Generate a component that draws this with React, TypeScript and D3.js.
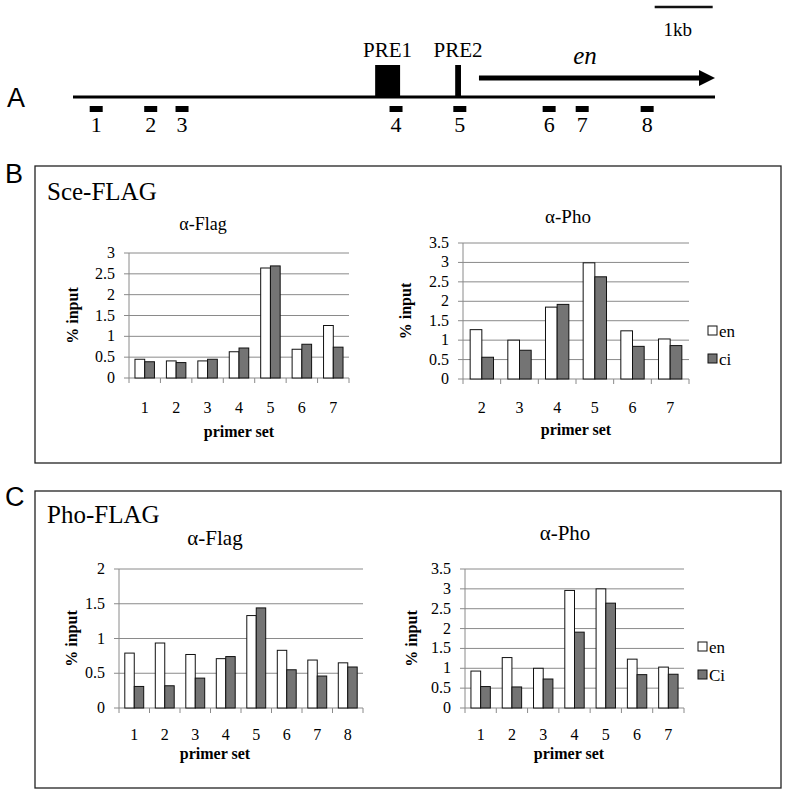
import React from "react";
import * as d3 from "d3";

// ---------- data ----------
const seriesNames = ["en", "ci"];
const seriesNamesC = ["en", "Ci"];

const bLeftPrimers = ["1", "2", "3", "4", "5", "6", "7"];
const bLeftEn = [0.45, 0.41, 0.41, 0.63, 2.64, 0.69, 1.26];
const bLeftCi = [0.39, 0.37, 0.45, 0.72, 2.69, 0.81, 0.74];

const bRightPrimers = ["2", "3", "4", "5", "6", "7"];
const bRightEn = [1.27, 1.0, 1.85, 2.99, 1.24, 1.03];
const bRightCi = [0.56, 0.74, 1.92, 2.63, 0.84, 0.86];

const cLeftPrimers = ["1", "2", "3", "4", "5", "6", "7", "8"];
const cLeftEn = [0.79, 0.935, 0.77, 0.71, 1.33, 0.83, 0.69, 0.65];
const cLeftCi = [0.31, 0.32, 0.43, 0.74, 1.44, 0.55, 0.46, 0.59];

const cRightPrimers = ["1", "2", "3", "4", "5", "6", "7"];
const cRightEn = [0.93, 1.27, 1.0, 2.96, 3.0, 1.23, 1.03];
const cRightCi = [0.54, 0.53, 0.73, 1.91, 2.64, 0.84, 0.85];

// gene map (kb)
const mapLength = 11.07;
const primerLabels = ["1", "2", "3", "4", "5", "6", "7", "8"];
const primerKb = [0.4, 1.34, 1.88, 5.57, 6.67, 8.21, 8.78, 9.9];
const pre1Kb = [5.21, 5.64];
const pre2Kb = [6.59, 6.69];
const enKb = [7.0, 11.07];
const scaleBarKb = [10.03, 11.03];

const SERIF = "'Liberation Serif', 'Times New Roman', serif";
const SANS = "'Liberation Sans', Arial, sans-serif";
const GRID = "#8a8a8a";
const CI_FILL = "#747474";

type ChartProps = {
  cats: string[];
  en: number[];
  ci: number[];
  x0: number;
  x1: number;
  y0: number;
  yTop: number;
  max: number;
  title: string;
  titleX: number;
  titleY: number;
  titleSize: number;
  catY: number;
  axTitleX: number;
  axTitleY: number;
  yTitleX: number;
};

function BarChart(p: ChartProps) {
  const x = d3.scaleBand<string>().domain(p.cats).range([p.x0, p.x1]).padding(0);
  const bw = x.bandwidth();
  const inner = d3
    .scaleBand<string>()
    .domain(["en", "ci"])
    .range([bw * 0.19, bw * 0.81])
    .padding(0);
  const y = d3.scaleLinear().domain([0, p.max]).range([p.y0, p.yTop]);
  const ticks = d3.range(0, p.max + 0.001, 0.5);
  const bounds = p.cats.map((c) => x(c) as number).concat([p.x1]);
  return (
    <g>
      <text x={p.titleX} y={p.titleY} fontSize={p.titleSize} fontFamily={SERIF} textAnchor="middle">
        α-{p.title}
      </text>
      {ticks.map((t) => (
        <g key={t}>
          <line x1={p.x0 - 5} x2={p.x1} y1={y(t)} y2={y(t)} stroke={GRID} strokeWidth={1} />
          <text x={p.x0 - 14} y={y(t) + 5} fontSize={16} fontFamily={SERIF} textAnchor="end">
            {String(t)}
          </text>
        </g>
      ))}
      <line x1={p.x0} x2={p.x0} y1={p.yTop} y2={p.y0} stroke={GRID} strokeWidth={1} />
      {bounds.map((b, i) => (
        <line key={i} x1={b} x2={b} y1={p.y0} y2={p.y0 + 5} stroke={GRID} strokeWidth={1} />
      ))}
      {p.cats.map((c, i) => (
        <g key={c}>
          <rect
            x={(x(c) as number) + (inner("en") as number)}
            y={y(p.en[i])}
            width={inner.bandwidth()}
            height={p.y0 - y(p.en[i])}
            fill="#ffffff"
            stroke="#111"
            strokeWidth={1}
          />
          <rect
            x={(x(c) as number) + (inner("ci") as number)}
            y={y(p.ci[i])}
            width={inner.bandwidth()}
            height={p.y0 - y(p.ci[i])}
            fill={CI_FILL}
            stroke="#111"
            strokeWidth={1}
          />
          <text
            x={(x(c) as number) + bw / 2}
            y={p.catY}
            fontSize={16}
            fontFamily={SERIF}
            textAnchor="middle"
          >
            {c}
          </text>
        </g>
      ))}
      <text
        x={p.axTitleX}
        y={p.axTitleY}
        fontSize={16}
        fontWeight="bold"
        fontFamily={SERIF}
        textAnchor="middle"
      >
        primer set
      </text>
      <text
        transform={`translate(${p.yTitleX},${(p.y0 + p.yTop) / 2}) rotate(-90)`}
        fontSize={16}
        fontWeight="bold"
        fontFamily={SERIF}
        textAnchor="middle"
        dy={5}
      >
        % input
      </text>
    </g>
  );
}

function Legend({ x, y, names }: { x: number; y: number; names: string[] }) {
  return (
    <g>
      {names.map((n, i) => (
        <g key={n}>
          <rect
            x={x}
            y={y + i * 28}
            width={9}
            height={9}
            fill={i === 0 ? "#fff" : CI_FILL}
            stroke="#111"
            strokeWidth={1}
          />
          <text x={x + 11} y={y + i * 28 + 11} fontSize={17} fontFamily={SERIF}>
            {n}
          </text>
        </g>
      ))}
    </g>
  );
}

function GeneMap() {
  const gx = d3.scaleLinear().domain([0, mapLength]).range([73, 715]);
  const lineY = 97;
  return (
    <g>
      <text x={7} y={107} fontSize={27} fontFamily={SANS}>
        A
      </text>
      <line x1={gx(0)} x2={gx(mapLength)} y1={lineY} y2={lineY} stroke="#000" strokeWidth={3} />
      <rect x={gx(pre1Kb[0])} y={65} width={gx(pre1Kb[1]) - gx(pre1Kb[0])} height={lineY - 65} fill="#000" />
      <rect x={gx(pre2Kb[0])} y={65} width={gx(pre2Kb[1]) - gx(pre2Kb[0])} height={lineY - 65} fill="#000" />
      <text x={(gx(pre1Kb[0]) + gx(pre1Kb[1])) / 2} y={57} fontSize={21} fontFamily={SERIF} textAnchor="middle">
        PRE1
      </text>
      <text x={(gx(pre2Kb[0]) + gx(pre2Kb[1])) / 2} y={57} fontSize={21} fontFamily={SERIF} textAnchor="middle">
        PRE2
      </text>
      <line x1={gx(enKb[0])} x2={gx(enKb[1]) - 14} y1={78} y2={78} stroke="#000" strokeWidth={5} />
      <path
        d={`M${gx(enKb[1]) - 16},70 L${gx(enKb[1])},78 L${gx(enKb[1]) - 16},86 Z`}
        fill="#000"
      />
      <text x={(gx(enKb[0]) + gx(enKb[1])) / 2 - 12} y={64} fontSize={25} fontStyle="italic" fontFamily={SERIF} textAnchor="middle">
        en
      </text>
      <line x1={gx(scaleBarKb[0])} x2={gx(scaleBarKb[1])} y1={7} y2={7} stroke="#111" strokeWidth={2.5} />
      <text x={(gx(scaleBarKb[0]) + gx(scaleBarKb[1])) / 2 - 6} y={36} fontSize={19} fontFamily={SERIF} textAnchor="middle">
        1kb
      </text>
      {primerKb.map((k, i) => (
        <g key={i}>
          <rect x={gx(k) - 6.5} y={106} width={13} height={6} fill="#000" />
          <text x={gx(k)} y={132} fontSize={22} fontFamily={SERIF} textAnchor="middle">
            {primerLabels[i]}
          </text>
        </g>
      ))}
    </g>
  );
}

export default function App() {
  return (
    <svg
      width={790}
      height={793}
      style={{ position: "absolute", left: 0, top: 0, background: "#fff" }}
    >
      <rect x={0} y={0} width={790} height={793} fill="#fff" />
      <GeneMap />

      {/* Panel B */}
      <text x={5} y={183} fontSize={27} fontFamily={SANS}>
        B
      </text>
      <rect x={35} y={166} width={746} height={297} fill="none" stroke="#222" strokeWidth={1.3} />
      <text x={47} y={200} fontSize={25} fontFamily={SERIF}>
        Sce-FLAG
      </text>
      <BarChart
        cats={bLeftPrimers}
        en={bLeftEn}
        ci={bLeftCi}
        x0={129}
        x1={349}
        y0={378}
        yTop={253}
        max={3}
        title="Flag"
        titleX={203}
        titleY={230}
        titleSize={18}
        catY={413}
        axTitleX={239}
        axTitleY={437}
        yTitleX={73}
      />
      <BarChart
        cats={bRightPrimers}
        en={bRightEn}
        ci={bRightCi}
        x0={463}
        x1={689}
        y0={379}
        yTop={243}
        max={3.5}
        title="Pho"
        titleX={568}
        titleY={223}
        titleSize={19}
        catY={413}
        axTitleX={576}
        axTitleY={435}
        yTitleX={406}
      />
      <Legend x={708} y={326} names={seriesNames} />

      {/* Panel C */}
      <text x={5} y={506} fontSize={27} fontFamily={SANS}>
        C
      </text>
      <rect x={35} y={491} width={746} height={297} fill="none" stroke="#222" strokeWidth={1.3} />
      <text x={47} y={523} fontSize={25} fontFamily={SERIF}>
        Pho-FLAG
      </text>
      <BarChart
        cats={cLeftPrimers}
        en={cLeftEn}
        ci={cLeftCi}
        x0={119}
        x1={363}
        y0={708}
        yTop={569}
        max={2}
        title="Flag"
        titleX={215}
        titleY={545}
        titleSize={21}
        catY={740}
        axTitleX={215}
        axTitleY={759}
        yTitleX={72}
      />
      <BarChart
        cats={cRightPrimers}
        en={cRightEn}
        ci={cRightCi}
        x0={465}
        x1={684}
        y0={708}
        yTop={569}
        max={3.5}
        title="Pho"
        titleX={565}
        titleY={540}
        titleSize={21}
        catY={740}
        axTitleX={569}
        axTitleY={759}
        yTitleX={412}
      />
      <Legend x={698} y={642} names={seriesNamesC} />
    </svg>
  );
}
